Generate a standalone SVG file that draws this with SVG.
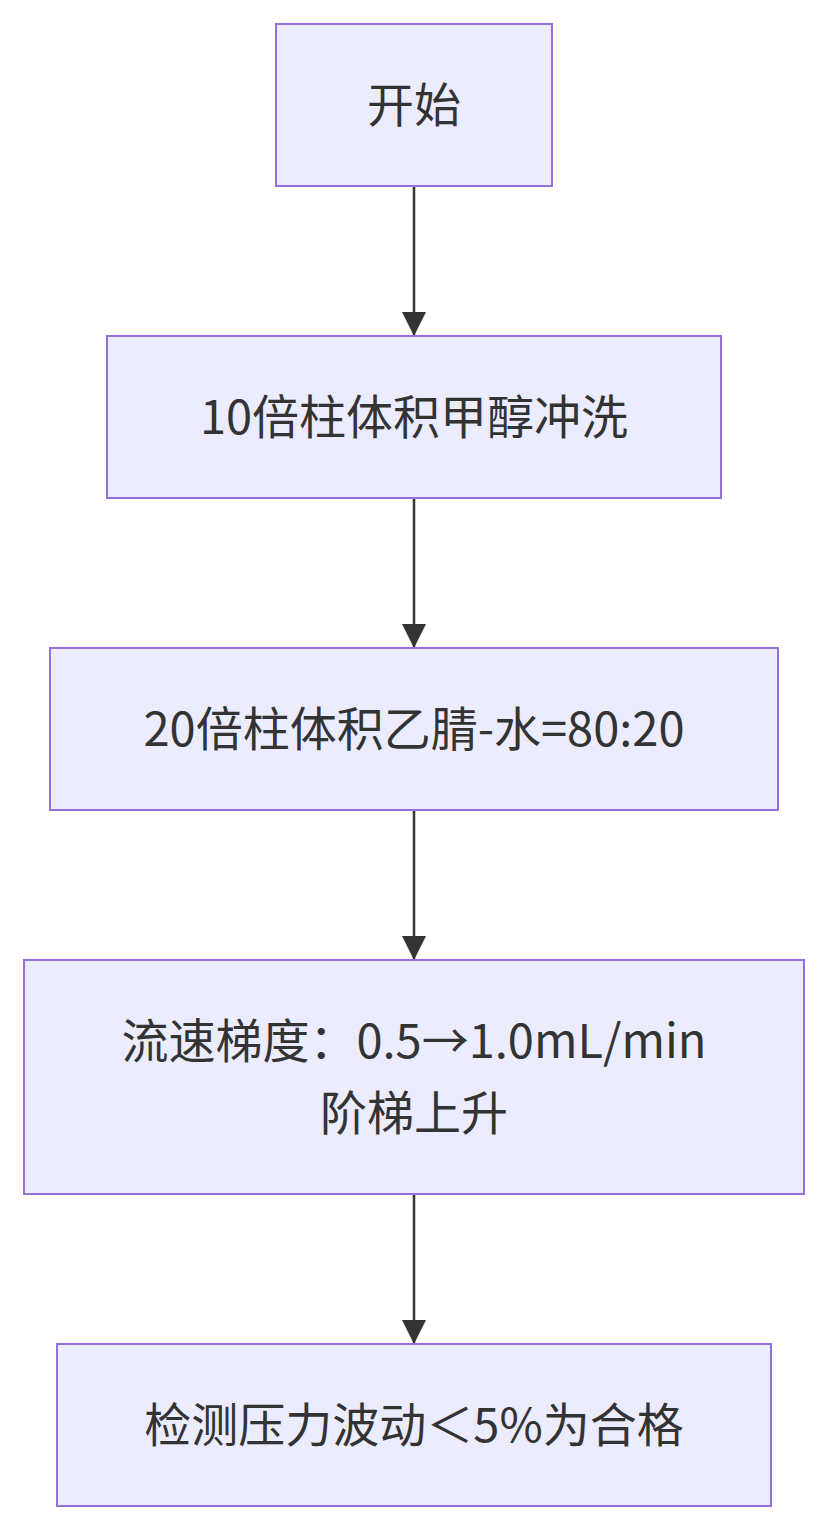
<svg xmlns="http://www.w3.org/2000/svg" width="828" height="1530" viewBox="0 0 828 1530">
<style>
.n{fill:#ECECFF;stroke:#9370DB;stroke-width:2}
.t{font-family:"Noto Sans CJK SC","Noto Sans",sans-serif;font-size:47px;fill:#333;text-anchor:middle;dominant-baseline:central}
.e{stroke:#333;stroke-width:2.5;fill:none}
</style>
<defs><marker id="b" viewBox="0 0 12 12" refX="12" refY="6" markerWidth="24" markerHeight="24" markerUnits="userSpaceOnUse" orient="auto"><path d="M0,0L12,6L0,12z" fill="#333"/></marker></defs>
<g id="edges">
<line class="e" x1="414" y1="186" x2="414" y2="336" marker-end="url(#b)"/>
<line class="e" x1="414" y1="498" x2="414" y2="648" marker-end="url(#b)"/>
<line class="e" x1="414" y1="810" x2="414" y2="960" marker-end="url(#b)"/>
<line class="e" x1="414" y1="1194" x2="414" y2="1344" marker-end="url(#b)"/>
</g>
<g id="n1"><rect class="n" x="276" y="24" width="276" height="162"/><text class="t" x="414" y="101">开始</text></g>
<g id="n2"><rect class="n" x="107" y="336" width="614" height="162"/><text class="t" x="414" y="413">10倍柱体积甲醇冲洗</text></g>
<g id="n3"><rect class="n" x="50" y="648" width="728" height="162"/><text class="t" x="414" y="725">20倍柱体积乙腈-水=80:20</text></g>
<g id="n4"><rect class="n" x="24" y="960" width="780" height="234"/><text class="t" x="414" y="1037">流速梯度：0.5→1.0mL/min</text><text class="t" x="414" y="1109">阶梯上升</text></g>
<g id="n5"><rect class="n" x="57" y="1344" width="714" height="162"/><text class="t" x="414" y="1421">检测压力波动＜5%为合格</text></g>
</svg>
